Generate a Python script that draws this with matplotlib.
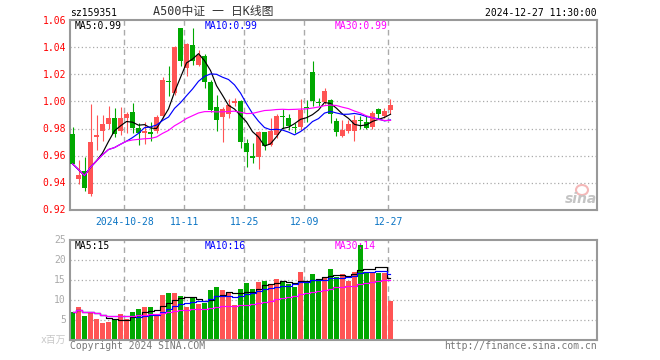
import numpy as np
import pandas as pd
import matplotlib
matplotlib.use('Agg')
import matplotlib.pyplot as plt
from matplotlib.patches import Ellipse

code = 'sz159351'
title = 'A500中证 一 日K线图'
stamp = '2024-12-27 11:30:00'

# daily candles, 2024-10-15 .. 2024-12-27
opens = [0.976, 0.9425, 0.949, 0.932, 0.974, 0.978, 0.9835, 0.988, 0.978, 0.988,
         0.992, 0.9805, 0.977, 0.9775, 0.978, 0.989, 1.0145, 1.0065, 1.054, 1.025,
         1.0415, 1.027, 1.0335, 1.014, 0.996, 0.9885, 0.991, 0.9985, 1.0005, 0.969,
         0.9595, 0.959, 0.9773, 0.968, 0.975, 0.9893, 0.988, 0.9808, 0.981, 0.996,
         1.0215, 0.9995, 0.9995, 1.001, 0.9855, 0.9745, 0.978, 0.9785, 0.986, 0.985,
         0.981, 0.9946, 0.989, 0.9935]
highs = [0.981, 0.957, 0.959, 0.998, 0.990, 0.990, 0.997, 0.995, 0.996, 0.992,
         0.9985, 0.984, 0.985, 0.985, 0.990, 1.018, 1.026, 1.0405, 1.054, 1.043,
         1.054, 1.038, 1.035, 1.016, 1.005, 0.996, 1.002, 1.0025, 1.001, 0.9725,
         0.9695, 0.978, 0.9775, 0.988, 0.991, 0.9945, 0.991, 0.984, 1.0015, 1.001,
         1.030, 1.0025, 1.010, 1.0015, 0.988, 0.986, 0.9865, 0.990, 0.989, 0.989,
         0.993, 0.995, 0.9953, 1.0015]
lows = [0.953, 0.939, 0.934, 0.930, 0.964, 0.971, 0.980, 0.9735, 0.975, 0.977,
        0.977, 0.968, 0.969, 0.971, 0.977, 0.988, 1.004, 1.005, 1.026, 1.019,
        1.027, 1.026, 1.010, 0.992, 0.978, 0.970, 0.9875, 0.997, 0.966, 0.952,
        0.955, 0.950, 0.9645, 0.967, 0.973, 0.980, 0.979, 0.977, 0.979, 0.985,
        0.9965, 0.9965, 0.998, 0.984, 0.9745, 0.9735, 0.977, 0.971, 0.980, 0.980,
        0.980, 0.988, 0.988, 0.991]
closes = [0.954, 0.9455, 0.9365, 0.970, 0.975, 0.983, 0.988, 0.976, 0.988, 0.991,
          0.9805, 0.977, 0.978, 0.9758, 0.9887, 1.016, 1.014, 1.040, 1.030, 1.042,
          1.030, 1.034, 1.014, 0.994, 0.986, 0.9945, 0.997, 1.0005, 0.970, 0.9625,
          0.9585, 0.9773, 0.9674, 0.978, 0.989, 0.9887, 0.982, 0.9803, 0.994, 0.995,
          1.000, 0.999, 1.008, 0.9905, 0.9773, 0.9787, 0.983, 0.986, 0.9855, 0.9805,
          0.9915, 0.9904, 0.9933, 0.997]
# volume, millions
volumes = [7.0, 8.25, 6.0, 7.0, 5.25, 4.25, 4.5, 5.1, 6.5, 5.2,
           7.0, 7.8, 8.25, 8.25, 6.5, 11.3, 11.75, 11.75, 11.0, 8.25,
           10.75, 9.1, 9.25, 12.5, 13.25, 12.6, 12.0, 8.7, 12.8, 14.25,
           12.8, 14.6, 14.8, 14.1, 15.25, 14.7, 13.9, 13.25, 17.0, 14.75,
           16.5, 15.0, 15.7, 17.75, 15.75, 16.6, 14.8, 17.0, 23.8, 17.0,
           16.7, 16.7, 16.7, 9.8]

tick_idx = [9, 19, 29, 39, 53]
tick_labels = ['2024-10-28', '11-11', '11-25', '12-09', '12-27']
price_ticks = [1.06, 1.04, 1.02, 1.00, 0.98, 0.96, 0.94, 0.92]
vol_ticks = [25, 20, 15, 10, 5]

RED = '#ff5454'
GREEN = '#00a800'
GRID = '#aaaaaa'
FRAME = '#999999'
MONO = 'DejaVu Sans Mono'
MA_COLORS = {5: 'black', 10: '#0000ff', 30: '#ff00ff'}

W, H = 660, 360


def px(x, y):
    return x / W, 1 - y / H


n = len(closes)
xs = np.arange(n)
o = np.array(opens)
c = np.array(closes)
up = c >= o
cols = [RED if u else GREEN for u in up]
cs = pd.Series(closes)
vs = pd.Series(volumes)
price_ma = {k: cs.rolling(k, min_periods=1).mean() for k in MA_COLORS}
vol_ma = {k: vs.rolling(k, min_periods=1).mean() for k in MA_COLORS}

fig = plt.figure(figsize=(W / 100, H / 100), dpi=100)
ax = fig.add_axes([70 / W, 150 / H, 527 / W, 190 / H])
axv = fig.add_axes([70 / W, 20 / H, 527 / W, 100 / H])

xlim = (-0.42, 87.42)
for a in (ax, axv):
    a.set_xlim(*xlim)
    a.set_xticks([])
    a.set_yticks([])
    for s in a.spines.values():
        s.set_color(FRAME)
        s.set_linewidth(1.5)
    for t in tick_idx:
        a.axvline(t - 0.35, color=GRID, lw=1, ls=(0, (4, 3)), zorder=0)

# price panel
ax.set_ylim(0.92, 1.06)
for p in price_ticks[1:-1]:
    ax.axhline(p, color=GRID, lw=0.9, ls=(0, (1, 2)), zorder=0)
ax.vlines(xs, lows, highs, colors=cols, lw=0.8, zorder=2)
body = np.maximum(np.abs(c - o), 0.0008)
ax.bar(xs, body, bottom=np.minimum(o, c), width=0.83, color=cols, zorder=3)
for k, col in MA_COLORS.items():
    ax.plot(xs, price_ma[k], color=col, lw=0.85, zorder=4)

# volume panel
axv.set_ylim(0, 25)
for v in vol_ticks[1:]:
    axv.axhline(v, color=GRID, lw=0.9, ls=(0, (1, 2)), zorder=0)
axv.bar(xs, volumes, width=0.83, color=cols, zorder=2)
for k, col in MA_COLORS.items():
    axv.plot(xs, vol_ma[k], color=col, lw=0.85, drawstyle='steps-mid', zorder=4)

# labels
fs = 7
for p in price_ticks:
    y = 102 - (p - 1.00) * 1350
    fig.text(*px(66, y), f'{p:.2f}', color='#ff0000', ha='right', va='center',
             family=MONO, fontsize=fs)
for v in vol_ticks:
    y = 340 - v * 4
    fig.text(*px(66, y), str(v), color='#aaaaaa', ha='right', va='center',
             family=MONO, fontsize=fs)
fig.text(*px(66, 340), 'x百万', color='#c8c8c8', ha='right', va='center',
         family=[MONO, 'Noto Sans CJK SC'], fontsize=fs)

for t, lab in zip(tick_idx, tick_labels):
    xpix = 72.5 + 6 * (t - 0.35)
    fig.text(*px(xpix, 222), lab, color='#0a74c4', ha='center', va='center',
             family=MONO, fontsize=fs)

fig.text(*px(70, 13), code, color='black', ha='left', va='center',
         family=MONO, fontsize=fs)
fig.text(*px(213, 12), title, color='#333333', ha='center', va='center',
         family=[MONO, 'Noto Sans CJK SC'], fontsize=8.5)
fig.text(*px(597, 13), stamp, color='black', ha='right', va='center',
         family=MONO, fontsize=fs)

lab_x = {5: 75, 10: 205, 30: 335}
for k, col in MA_COLORS.items():
    fig.text(*px(lab_x[k], 26), f'MA{k}:{price_ma[k].iloc[-1]:.2f}', color=col,
             ha='left', va='center', family=MONO, fontsize=fs)
    fig.text(*px(lab_x[k], 246), f'MA{k}:{int(vol_ma[k].iloc[-1])}', color=col,
             ha='left', va='center', family=MONO, fontsize=fs)

fig.text(*px(70, 346), 'Copyright 2024 SINA.COM', color='#777777', ha='left',
         va='center', family=MONO, fontsize=fs)
fig.text(*px(597, 346), 'http://finance.sina.com.cn', color='#777777',
         ha='right', va='center', family=MONO, fontsize=fs)

# sina watermark
fig.patches.append(Ellipse(px(582, 190), 12 / W, 10 / H, transform=fig.transFigure,
                           fill=False, ec='#f4b8b8', lw=1.5))
fig.text(*px(581, 199), 'sina', color='#c4c4c4', ha='center', va='center',
         fontsize=10, fontweight='bold', style='italic')

fig.savefig('out.png', dpi=100)
